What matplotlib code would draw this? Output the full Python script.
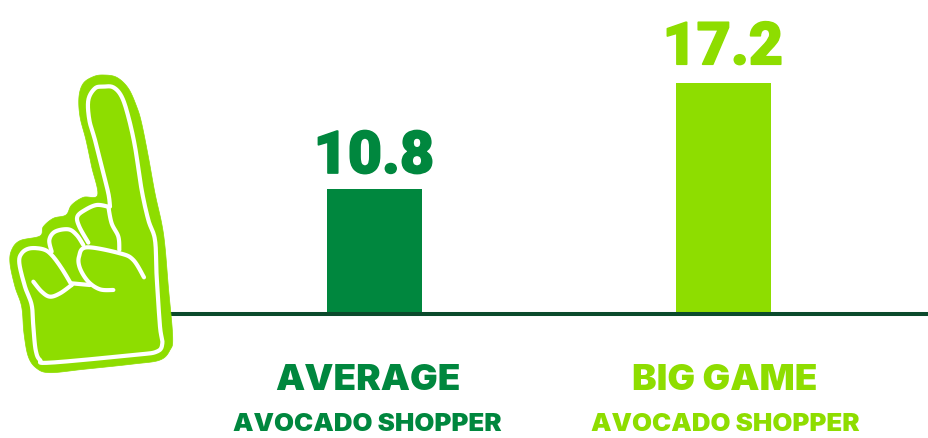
import matplotlib
matplotlib.use("Agg")
import matplotlib.pyplot as plt
import matplotlib.patheffects as pe
import numpy as np
from matplotlib.patches import PathPatch
from matplotlib.path import Path

# Shopper groups and their average values
groups = ["AVERAGE", "BIG GAME"]
subtitle = "AVOCADO SHOPPER"
values = [10.8, 17.2]
value_labels = ["10.8", "17.2"]
bar_colors = ["#00873E", "#8EDD00"]
BASELINE_COLOR = "#0B4A2C"

# Foam-finger outline and inner strokes, in illustration units
hand_outer = [(310,45),(350,52),(385,85),(410,140),(425,190),(445,290),(465,400),(485,490),(495,560),
              (505,680),(518,830),(510,870),(480,900),(400,912),(250,928),(150,938),(110,925),(85,890),
              (72,820),(65,740),(45,680),(30,610),(35,570),(60,542),(120,528),(130,500),(160,475),
              (198,465),(215,435),(250,412),(293,405),(275,320),(258,240),(240,170),(237,110),(250,70),(280,50)]
hand_inner = [(330,440),(325,400),(305,320),(285,240),(268,180),(265,120),(285,85),(310,80),(340,82),(365,110),
              (385,170),(405,260),(425,390),(445,480),(465,540),(470,650),(480,800),(487,850),(470,875),
              (400,885),(150,908),(120,900),(107,870),(100,800),(95,735),(75,680),(58,610),(65,580),
              (90,565),(130,568),(155,585),(185,625),(215,675)]
hand_strokes = [
    [(215,675),(180,700),(150,710),(125,695),(100,665)],
    [(325,440),(290,435),(255,450),(232,470),(238,500),(265,548)],
    [(155,575),(148,540),(165,515),(205,508),(230,525),(250,555)],
    [(340,690),(300,688),(265,665),(240,625),(237,590),(260,562),(360,580),(400,600),(432,652)],
    [(325,440),(335,490),(355,530),(358,570)],
    [(215,670),(270,675)],
]


def smooth(points, closed=False, n=12):
    """Catmull-Rom curve through the given points."""
    p = np.array(points, float)
    if closed:
        p = np.vstack([p[-1], p, p[0], p[1]])
    else:
        p = np.vstack([p[0], p, p[-1]])
    out = []
    for i in range(1, len(p) - 2):
        for t in np.linspace(0, 1, n, endpoint=False):
            out.append(0.5 * (2*p[i] + (p[i+1]-p[i-1])*t + (2*p[i-1]-5*p[i]+4*p[i+1]-p[i+2])*t**2
                              + (3*p[i]-p[i-1]-3*p[i+1]+p[i+2])*t**3))
    out.append(p[-2])
    return np.array(out)


fig = plt.figure(figsize=(9.29, 4.38), dpi=100, facecolor="white")
W, H = 929, 438
BASE_PX = 314
PX_PER_UNIT = (231 - 125) / (17.2 - 10.8)

# Value axis starts above zero, so bars rise from the floor of the scale
ax = fig.add_axes([0, 0, 1, 1])
y_floor = 10.8 - 125 / PX_PER_UNIT
ax.set_ylim(y_floor - (H - BASE_PX) / PX_PER_UNIT, y_floor + BASE_PX / PX_PER_UNIT)
ax.set_xlim(-374.5 / 349, (W - 374.5) / 349)
ax.axis("off")

x = np.arange(len(groups))
ax.bar(x, np.array(values) - y_floor, width=95 / 349, color=bar_colors, bottom=y_floor, zorder=2)
ax.hlines(y_floor, (170 - 374.5) / 349, ax.get_xlim()[1], color=BASELINE_COLOR, lw=2.9, zorder=3)

label_shift = [7, -1.5]
value_rise = [11.5, 13.5]
for i, (xi, v, lab, c) in enumerate(zip(x, values, value_labels, bar_colors)):
    ax.annotate(lab, (xi, v), xytext=(-0.5, value_rise[i]), textcoords="offset points",
                ha="center", va="baseline", fontsize=42.5, fontfamily="Roboto", fontweight=900, color=c,
                path_effects=[pe.withStroke(linewidth=1.2, foreground=c)])
    cx = xi * 349 + 374.5 - label_shift[i]
    fig.text(cx / W, 1 - 390 / H, groups[i], ha="center", va="baseline", fontsize=26.5,
             fontfamily="Inter", fontweight=900, color=c)
    fig.text(cx / W, 1 - 431 / H, subtitle, ha="center", va="baseline", fontsize=18.6,
             fontfamily="Inter", fontweight=900, color=c)

# Illustration overlay
hand = fig.add_axes([0, 0, 1, 1], facecolor="none")
hand.set_xlim(0, W)
hand.set_ylim(H, 0)
hand.axis("off")


def to_px(points):
    arr = np.asarray(points, float) / 3
    return arr + np.array([0, 60])


outer = to_px(smooth(hand_outer, closed=True))
hand.add_patch(PathPatch(Path(outer), facecolor="#8EDD00", edgecolor="#8EDD00", lw=0.5, zorder=5))
for stroke in [hand_inner] + hand_strokes:
    pts = to_px(smooth(stroke))
    hand.plot(pts[:, 0], pts[:, 1], color="white", lw=3.0, solid_capstyle="round", solid_joinstyle="round", zorder=6)

fig.savefig("out.png", dpi=100)
